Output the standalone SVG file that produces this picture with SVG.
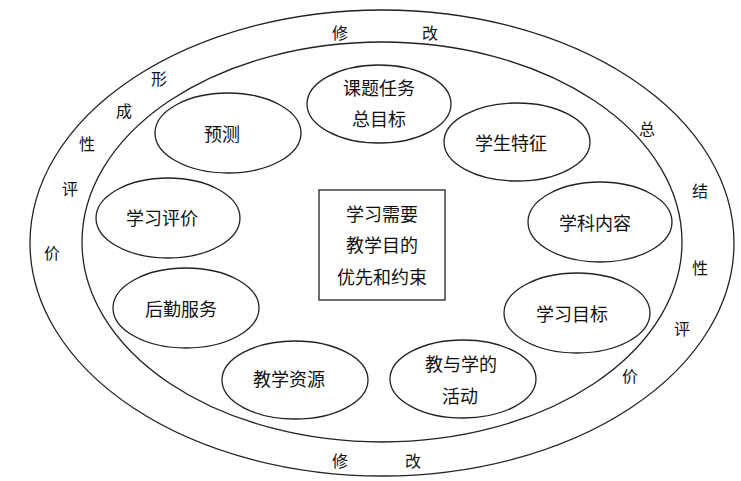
<svg xmlns="http://www.w3.org/2000/svg" width="741" height="481" viewBox="0 0 741 481">
<style>
.sh{fill:none;stroke:#222;stroke-width:1.3}
.n{fill:#fff;stroke:#222;stroke-width:1.3}
.t{font-family:"Noto Sans CJK SC","Noto Sans",sans-serif;font-size:18px;fill:#111;text-anchor:middle;dominant-baseline:central}
.r{font-family:"Noto Sans CJK SC","Noto Sans",sans-serif;font-size:16px;fill:#111;text-anchor:middle;dominant-baseline:central}
</style>
<rect width="741" height="481" fill="#fff"/>
<g id="rings">
<ellipse class="sh" cx="382" cy="243" rx="352" ry="233"/>
<ellipse class="sh" cx="382" cy="242" rx="300" ry="200"/>
</g>
<g id="ring-labels">
<text class="r" x="340" y="32">修</text>
<text class="r" x="430" y="32">改</text>
<text class="r" x="159" y="78">形</text>
<text class="r" x="124" y="110">成</text>
<text class="r" x="87" y="143">性</text>
<text class="r" x="70" y="188">评</text>
<text class="r" x="52" y="252">价</text>
<text class="r" x="647" y="128">总</text>
<text class="r" x="700" y="190">结</text>
<text class="r" x="700" y="267">性</text>
<text class="r" x="682" y="328">评</text>
<text class="r" x="630" y="375">价</text>
<text class="r" x="340" y="460">修</text>
<text class="r" x="413" y="460">改</text>
</g>
<g id="center">
<rect class="n" x="319" y="190" width="126" height="110"/>
<text class="t" x="382" y="213">学习需要</text>
<text class="t" x="382" y="244">教学目的</text>
<text class="t" x="382" y="276">优先和约束</text>
</g>
<g id="n-yuce"><ellipse class="n" cx="228" cy="133" rx="73" ry="40"/><text class="t" x="222" y="133">预测</text></g>
<g id="n-keti"><ellipse class="n" cx="379" cy="104" rx="72" ry="39"/><text class="t" x="379" y="87">课题任务</text><text class="t" x="379" y="118">总目标</text></g>
<g id="n-xuesheng"><ellipse class="n" cx="517" cy="142" rx="73" ry="39"/><text class="t" x="511" y="142">学生特征</text></g>
<g id="n-xueke"><ellipse class="n" cx="600" cy="222" rx="72" ry="40"/><text class="t" x="595" y="222">学科内容</text></g>
<g id="n-pingjia"><ellipse class="n" cx="168" cy="218" rx="72" ry="40"/><text class="t" x="162" y="217">学习评价</text></g>
<g id="n-houqin"><ellipse class="n" cx="186" cy="308" rx="73" ry="40"/><text class="t" x="181" y="308">后勤服务</text></g>
<g id="n-ziyuan"><ellipse class="n" cx="295" cy="380" rx="73" ry="39"/><text class="t" x="289" y="378">教学资源</text></g>
<g id="n-mubiao"><ellipse class="n" cx="577" cy="313" rx="73" ry="40"/><text class="t" x="572" y="313">学习目标</text></g>
<g id="n-huodong"><ellipse class="n" cx="463" cy="379" rx="73" ry="39"/><text class="t" x="461" y="363">教与学的</text><text class="t" x="460" y="395">活动</text></g>
<g id="connectors"></g>
</svg>
